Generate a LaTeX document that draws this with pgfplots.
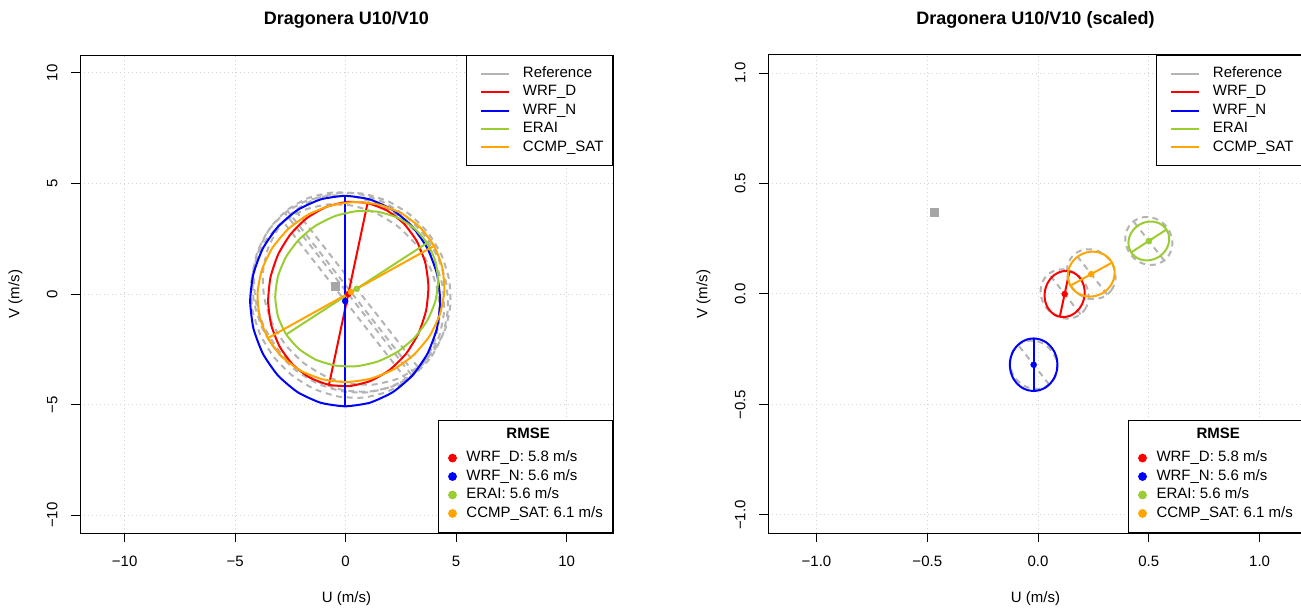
\documentclass[border=0pt]{standalone}
\usepackage{fontspec}
\setmainfont{Liberation Sans}
\usepackage{pgfplots}
\pgfplotsset{compat=1.18}
\definecolor{refgray}{HTML}{B4B4B4}
\definecolor{sqgray}{HTML}{A6A6A6}
\definecolor{ygreen}{HTML}{9ACD32}
\definecolor{rorange}{HTML}{FFA500}
\definecolor{gridgray}{HTML}{D3D3D3}
\newcommand{\fs}{\fontsize{11.25}{13.5}\selectfont}
\pgfplotsset{
  rbase/.style={scale only axis, anchor=south west, height=358.5pt},
  rax/.style={rbase,
    axis line style={black, line width=0.75pt},
    tick align=outside, tick pos=left, major tick length=6.75pt,
    tick style={black, line width=0.75pt},
    grid=major,
    major grid style={gridgray, line width=0.75pt, dash pattern=on 0.75pt off 2.25pt},
    xticklabel style={font=\fs, anchor=base, yshift=-18.25pt},
    yticklabel style={font=\fs, xshift=-10.25pt, rotate=90, anchor=base},
    every axis x label/.style={at={(axis description cs:0.5,0)}, yshift=-51.8pt, anchor=base, font=\fs},
    every axis y label/.style={at={(axis description cs:0,0.5)}, xshift=-45.5pt, rotate=90, anchor=base, font=\fs},
    every axis title/.style={at={(axis description cs:0.5,1)}, yshift=23pt, anchor=base, font=\bfseries\fontsize{13.5}{16}\selectfont},
    xlabel={U (m/s)}, ylabel={V (m/s)},
    legend style={at={(axis description cs:1,1)}, anchor=north east, draw=black, line width=0.75pt, fill=white, font=\fs, inner xsep=6.75pt, inner ysep=8.2pt, row sep=3.1pt, column sep=9.4pt, nodes={inner sep=0pt, text height=8.25pt, text depth=2.5pt}},
    legend cell align=left,
    legend image code/.code={\path (-3.75pt,0pt); \draw[#1, line width=1.5pt] (0pt,0pt) -- (21pt,0pt);},
  },
  rmse/.style={rbase, hide axis, xmin=0, xmax=1, ymin=0, ymax=1,
    legend style={at={(axis description cs:1,0)}, anchor=south east, draw=black, line width=0.75pt, fill=white, font=\fs, inner xsep=7.2pt, inner ysep=8.9pt, row sep=3.1pt, column sep=7.2pt, nodes={inner sep=0pt, text height=8.25pt, text depth=2.5pt}},
    legend cell align=left,
    legend image code/.code={\fill[#1] (0pt,0pt) circle (2.9pt);},
  },
  refell/.style={refgray, line width=1.5pt, dash pattern=on 4.5pt off 3.5pt, smooth cycle, tension=0.35, line join=round, forget plot},
  refln/.style={refgray, line width=1.5pt, dash pattern=on 4.5pt off 3.5pt, forget plot},
  mell/.style={#1, line width=1.5pt, smooth cycle, tension=0.35, line join=round, forget plot},
  mln/.style={#1, line width=1.5pt, forget plot},
  mdot/.style={only marks, mark=*, mark size=2.2pt, #1, forget plot},
  rsq/.style={only marks, mark=square*, mark size=3pt, sqgray, forget plot},
}
\begin{document}
\begin{tikzpicture}[font=\fs]
\path[use as bounding box] (0pt,0pt) rectangle (975.75pt,455.25pt);
% ---------------- left panel ----------------
\begin{axis}[rax, at={(60pt,55.5pt)}, width=399.75pt,
  xmin=-12.02, xmax=12.10, ymin=-10.81, ymax=10.81,
  xtick={-10,-5,0,5,10}, xticklabels={−10,−5,0,5,10},
  ytick={-10,-5,0,5,10}, yticklabels={−10,−5,0,5,10},
  title={Dragonera U10/V10}]
% reference ellipses (one per model period)
\addplot[refell] coordinates {(2.983,-3.664) (3.732,-2.878) (4.235,-1.896) (4.457,-0.784) (4.384,0.381) (4.020,1.520) (3.390,2.555) (2.538,3.416) (1.521,4.045) (0.408,4.398) (-0.724,4.451) (-1.799,4.201) (-2.743,3.664) (-3.492,2.878) (-3.995,1.896) (-4.217,0.784) (-4.144,-0.381) (-3.780,-1.520) (-3.150,-2.555) (-2.298,-3.416) (-1.281,-4.045) (-0.168,-4.398) (0.964,-4.451) (2.039,-4.201)};
\addplot[refln] coordinates {(2.983,-3.664) (-2.743,3.664)};
\addplot[refell] coordinates {(2.781,-3.905) (3.522,-3.130) (4.021,-2.163) (4.245,-1.070) (4.179,0.073) (3.826,1.190) (3.211,2.204) (2.376,3.046) (1.377,3.659) (0.284,4.000) (-0.831,4.047) (-1.890,3.796) (-2.821,3.265) (-3.562,2.490) (-4.061,1.523) (-4.285,0.430) (-4.219,-0.713) (-3.866,-1.830) (-3.251,-2.844) (-2.416,-3.686) (-1.417,-4.299) (-0.324,-4.640) (0.791,-4.687) (1.850,-4.436)};
\addplot[refln] coordinates {(2.781,-3.905) (-2.821,3.265)};
\addplot[refell] coordinates {(3.271,-3.306) (4.012,-2.532) (4.515,-1.569) (4.744,-0.482) (4.683,0.653) (4.338,1.761) (3.731,2.764) (2.904,3.596) (1.913,4.199) (0.825,4.532) (-0.284,4.573) (-1.340,4.318) (-2.271,3.786) (-3.012,3.012) (-3.515,2.049) (-3.744,0.962) (-3.683,-0.173) (-3.338,-1.281) (-2.731,-2.284) (-1.904,-3.116) (-0.913,-3.719) (0.175,-4.052) (1.284,-4.093) (2.340,-3.838)};
\addplot[refln] coordinates {(3.271,-3.306) (-2.271,3.786)};
\addplot[refell] coordinates {(3.134,-3.614) (3.892,-2.818) (4.401,-1.824) (4.626,-0.700) (4.553,0.478) (4.186,1.629) (3.550,2.676) (2.688,3.546) (1.659,4.181) (0.534,4.537) (-0.611,4.590) (-1.699,4.337) (-2.654,3.794) (-3.412,2.998) (-3.921,2.004) (-4.146,0.880) (-4.073,-0.298) (-3.706,-1.449) (-3.070,-2.496) (-2.208,-3.366) (-1.179,-4.001) (-0.054,-4.357) (1.091,-4.410) (2.179,-4.157)};
\addplot[refln] coordinates {(3.134,-3.614) (-2.654,3.794)};
% model ellipses
\addplot[mell=red] coordinates {(0.993,4.108) (0.052,4.162) (-0.885,3.932) (-1.752,3.434) (-2.493,2.702) (-3.055,1.786) (-3.401,0.748) (-3.507,-0.341) (-3.366,-1.406) (-2.987,-2.376) (-2.397,-3.184) (-1.634,-3.774) (-0.753,-4.108) (0.188,-4.162) (1.125,-3.932) (1.992,-3.434) (2.733,-2.702) (3.295,-1.786) (3.641,-0.748) (3.747,0.341) (3.606,1.406) (3.227,2.376) (2.637,3.184) (1.874,3.774)};
\addplot[mln=red] coordinates {(0.993,4.108) (-0.753,-4.108)};
\addplot[mell=blue] coordinates {(-0.02,4.44) (-1.133,4.278) (-2.17,3.802) (-3.061,3.046) (-3.744,2.06) (-4.173,0.912) (-4.32,-0.32) (-4.173,-1.552) (-3.744,-2.70) (-3.061,-3.686) (-2.17,-4.442) (-1.133,-4.918) (-0.02,-5.08) (1.093,-4.918) (2.13,-4.442) (3.021,-3.686) (3.704,-2.70) (4.133,-1.552) (4.28,-0.32) (4.133,0.912) (3.704,2.06) (3.021,3.046) (2.13,3.802) (1.093,4.278)};
\addplot[mln=blue] coordinates {(-0.02,4.44) (-0.02,-5.08)};
\addplot[mell=ygreen] coordinates {(3.687,2.309) (3.099,2.977) (2.334,3.458) (1.444,3.720) (0.490,3.745) (-0.464,3.530) (-1.352,3.092) (-2.114,2.459) (-2.698,1.676) (-3.063,0.794) (-3.186,-0.126) (-3.058,-1.020) (-2.687,-1.829) (-2.099,-2.497) (-1.334,-2.978) (-0.444,-3.240) (0.511,-3.265) (1.464,-3.050) (2.352,-2.612) (3.114,-1.979) (3.698,-1.196) (4.063,-0.314) (4.186,0.606) (4.058,1.500)};
\addplot[mln=ygreen] coordinates {(3.687,2.309) (-2.687,-1.829)};
\addplot[mell=rorange] coordinates {(4.001,2.175) (3.371,3.009) (2.528,3.645) (1.528,4.038) (0.442,4.162) (-0.660,4.008) (-1.699,3.588) (-2.606,2.929) (-3.320,2.077) (-3.791,1.089) (-3.987,0.033) (-3.895,-1.019) (-3.521,-1.995) (-2.891,-2.829) (-2.048,-3.465) (-1.048,-3.858) (0.038,-3.982) (1.140,-3.828) (2.179,-3.408) (3.086,-2.749) (3.800,-1.897) (4.271,-0.909) (4.467,0.147) (4.375,1.199)};
\addplot[mln=rorange] coordinates {(4.001,2.175) (-3.521,-1.995)};
% means
\addplot[rsq] coordinates {(-0.47,0.37)};
\addplot[mdot=red] coordinates {(0.12,0.00)};
\addplot[mdot=blue] coordinates {(-0.02,-0.32)};
\addplot[mdot=ygreen] coordinates {(0.50,0.24)};
\addplot[mdot=rorange] coordinates {(0.24,0.09)};
\addlegendimage{refgray}\addlegendentry{Reference}
\addlegendimage{red}\addlegendentry{WRF\_D}
\addlegendimage{blue}\addlegendentry{WRF\_N}
\addlegendimage{ygreen}\addlegendentry{ERAI}
\addlegendimage{rorange}\addlegendentry{CCMP\_SAT}
\end{axis}
\begin{axis}[rmse, at={(60pt,55.5pt)}, width=399.75pt]
\addlegendimage{empty legend}\addlegendentry{\raisebox{3.4pt}{\hspace*{30pt}\textbf{RMSE}}}
\addlegendimage{red}\addlegendentry{WRF\_D: 5.8 m/s}
\addlegendimage{blue}\addlegendentry{WRF\_N: 5.6 m/s}
\addlegendimage{ygreen}\addlegendentry{ERAI: 5.6 m/s}
\addlegendimage{rorange}\addlegendentry{CCMP\_SAT: 6.1 m/s}
\end{axis}
% ---------------- right panel ----------------
\begin{axis}[rax, at={(576pt,55.5pt)}, width=401.25pt,
  xmin=-1.219, xmax=1.196, ymin=-1.0815, ymax=1.0815,
  xtick={-1,-0.5,0,0.5,1}, xticklabels={−1.0,−0.5,0.0,0.5,1.0},
  ytick={-1,-0.5,0,0.5,1}, yticklabels={−1.0,−0.5,0.0,0.5,1.0},
  title={Dragonera U10/V10 (scaled)}]
\addplot[refell] coordinates {(0.1916,-0.0916) (0.2103,-0.0720) (0.2229,-0.0474) (0.2284,-0.0196) (0.2266,0.0095) (0.2175,0.0380) (0.2018,0.0639) (0.1804,0.0854) (0.1550,0.1011) (0.1272,0.1099) (0.0989,0.1113) (0.0720,0.1050) (0.0484,0.0916) (0.0297,0.0720) (0.0171,0.0474) (0.0116,0.0196) (0.0134,-0.0095) (0.0225,-0.0380) (0.0382,-0.0639) (0.0596,-0.0854) (0.0850,-0.1011) (0.1128,-0.1099) (0.1411,-0.1113) (0.1680,-0.1050)};
\addplot[refln] coordinates {(0.1916,-0.0916) (0.0484,0.0916)};
\addplot[refell] coordinates {(0.0500,-0.4096) (0.0686,-0.3902) (0.0810,-0.3661) (0.0866,-0.3388) (0.0850,-0.3102) (0.0761,-0.2822) (0.0608,-0.2569) (0.0399,-0.2358) (0.0149,-0.2205) (-0.0124,-0.2120) (-0.0403,-0.2108) (-0.0667,-0.2171) (-0.0900,-0.2304) (-0.1086,-0.2498) (-0.1210,-0.2739) (-0.1266,-0.3012) (-0.1250,-0.3298) (-0.1161,-0.3578) (-0.1008,-0.3831) (-0.0799,-0.4042) (-0.0549,-0.4195) (-0.0276,-0.4280) (0.0003,-0.4292) (0.0267,-0.4229)};
\addplot[refln] coordinates {(0.0500,-0.4096) (-0.0900,-0.2304)};
\addplot[refell] coordinates {(0.5693,0.1513) (0.5878,0.1707) (0.6004,0.1948) (0.6061,0.2219) (0.6046,0.2503) (0.5959,0.2780) (0.5808,0.3031) (0.5601,0.3239) (0.5353,0.3390) (0.5081,0.3473) (0.4804,0.3483) (0.4540,0.3420) (0.4307,0.3287) (0.4122,0.3093) (0.3996,0.2852) (0.3939,0.2581) (0.3954,0.2297) (0.4041,0.2020) (0.4192,0.1769) (0.4399,0.1561) (0.4647,0.1410) (0.4919,0.1327) (0.5196,0.1317) (0.5460,0.1380)};
\addplot[refln] coordinates {(0.5693,0.1513) (0.4307,0.3287)};
\addplot[refell] coordinates {(0.3124,-0.0026) (0.3313,0.0173) (0.3440,0.0421) (0.3497,0.0702) (0.3478,0.0997) (0.3386,0.1285) (0.3228,0.1546) (0.3012,0.1764) (0.2755,0.1923) (0.2474,0.2012) (0.2187,0.2025) (0.1915,0.1962) (0.1676,0.1826) (0.1487,0.1627) (0.1360,0.1379) (0.1303,0.1098) (0.1322,0.0803) (0.1414,0.0515) (0.1572,0.0254) (0.1788,0.0036) (0.2045,-0.0123) (0.2326,-0.0212) (0.2613,-0.0225) (0.2885,-0.0162)};
\addplot[refln] coordinates {(0.3124,-0.0026) (0.1676,0.1826)};
\addplot[mell=red] coordinates {(0.1418,0.1027) (0.1183,0.1040) (0.0949,0.0983) (0.0732,0.0858) (0.0547,0.0676) (0.0406,0.0446) (0.0320,0.0187) (0.0293,-0.0085) (0.0328,-0.0352) (0.0423,-0.0594) (0.0571,-0.0796) (0.0761,-0.0944) (0.0982,-0.1027) (0.1217,-0.1040) (0.1451,-0.0983) (0.1668,-0.0858) (0.1853,-0.0676) (0.1994,-0.0446) (0.2080,-0.0187) (0.2107,0.0085) (0.2072,0.0352) (0.1977,0.0594) (0.1829,0.0796) (0.1639,0.0944)};
\addplot[mln=red] coordinates {(0.1418,0.1027) (0.0982,-0.1027)};
\addplot[mell=blue] coordinates {(-0.020,-0.201) (-0.0478,-0.2051) (-0.0738,-0.2169) (-0.0960,-0.2359) (-0.1131,-0.2605) (-0.1238,-0.2892) (-0.1275,-0.320) (-0.1238,-0.3508) (-0.1131,-0.3795) (-0.0960,-0.4041) (-0.0738,-0.4231) (-0.0478,-0.4349) (-0.020,-0.439) (0.0078,-0.4349) (0.0338,-0.4231) (0.0560,-0.4041) (0.0731,-0.3795) (0.0838,-0.3508) (0.0875,-0.320) (0.0838,-0.2892) (0.0731,-0.2605) (0.0560,-0.2359) (0.0338,-0.2169) (0.0078,-0.2051)};
\addplot[mln=blue] coordinates {(-0.020,-0.201) (-0.020,-0.439)};
\addplot[mell=ygreen] coordinates {(0.5797,0.2917) (0.5650,0.3084) (0.5459,0.3205) (0.5236,0.3270) (0.4997,0.3276) (0.4759,0.3223) (0.4537,0.3113) (0.4347,0.2955) (0.4201,0.2759) (0.4109,0.2538) (0.4078,0.2308) (0.4111,0.2085) (0.4203,0.1883) (0.4350,0.1716) (0.4541,0.1595) (0.4764,0.1530) (0.5003,0.1524) (0.5241,0.1577) (0.5463,0.1687) (0.5653,0.1845) (0.5799,0.2041) (0.5891,0.2262) (0.5922,0.2492) (0.5889,0.2715)};
\addplot[mln=ygreen] coordinates {(0.5797,0.2917) (0.4203,0.1883)};
\addplot[mell=rorange] coordinates {(0.3340,0.1421) (0.3183,0.1630) (0.2972,0.1789) (0.2722,0.1887) (0.2450,0.1918) (0.2175,0.1880) (0.1915,0.1775) (0.1688,0.1610) (0.1510,0.1397) (0.1392,0.1150) (0.1343,0.0886) (0.1366,0.0623) (0.1460,0.0379) (0.1617,0.0170) (0.1828,0.0011) (0.2078,-0.0087) (0.2350,-0.0118) (0.2625,-0.0080) (0.2885,0.0025) (0.3112,0.0190) (0.3290,0.0403) (0.3408,0.0650) (0.3457,0.0914) (0.3434,0.1177)};
\addplot[mln=rorange] coordinates {(0.3340,0.1421) (0.1460,0.0379)};
\addplot[rsq] coordinates {(-0.47,0.37)};
\addplot[mdot=red] coordinates {(0.12,0.00)};
\addplot[mdot=blue] coordinates {(-0.02,-0.32)};
\addplot[mdot=ygreen] coordinates {(0.50,0.24)};
\addplot[mdot=rorange] coordinates {(0.24,0.09)};
\addlegendimage{refgray}\addlegendentry{Reference}
\addlegendimage{red}\addlegendentry{WRF\_D}
\addlegendimage{blue}\addlegendentry{WRF\_N}
\addlegendimage{ygreen}\addlegendentry{ERAI}
\addlegendimage{rorange}\addlegendentry{CCMP\_SAT}
\end{axis}
\begin{axis}[rmse, at={(576pt,55.5pt)}, width=401.25pt]
\addlegendimage{empty legend}\addlegendentry{\raisebox{3.4pt}{\hspace*{30pt}\textbf{RMSE}}}
\addlegendimage{red}\addlegendentry{WRF\_D: 5.8 m/s}
\addlegendimage{blue}\addlegendentry{WRF\_N: 5.6 m/s}
\addlegendimage{ygreen}\addlegendentry{ERAI: 5.6 m/s}
\addlegendimage{rorange}\addlegendentry{CCMP\_SAT: 6.1 m/s}
\end{axis}
\end{tikzpicture}
\end{document}
